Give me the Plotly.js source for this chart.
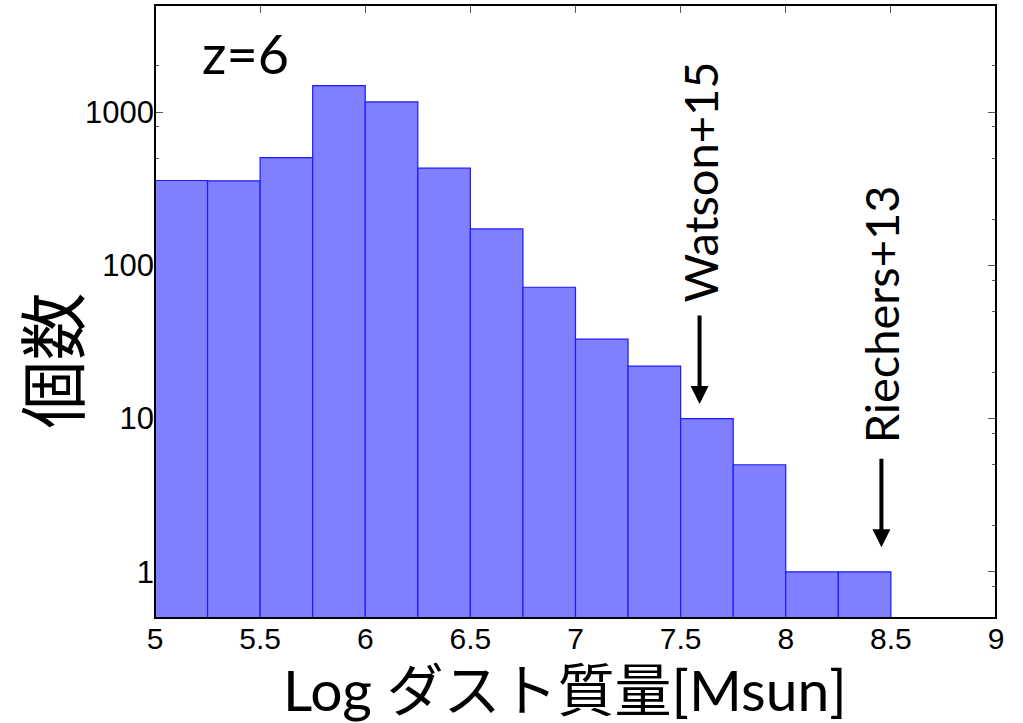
<!DOCTYPE html>
<html>
<head>
<meta charset="utf-8">
<script src="https://cdn.plot.ly/plotly-3.0.1.min.js"></script>
<style>
  html, body { margin: 0; padding: 0; background: #fff; }
  #chart { width: 1023px; height: 723px; }
</style>
</head>
<body>
<div id="chart"></div>
<script>
// ---- data ----
const binLeft = [5.0, 5.25, 5.5, 5.75, 6.0, 6.25, 6.5, 6.75, 7.0, 7.25, 7.5, 7.75, 8.0, 8.25];
const counts  = [358, 356, 504, 1490, 1165, 431, 173, 72, 33, 22, 10, 5, 1, 1];
const binWidth = 0.25;
const yTickVals = [1, 10, 100, 1000];
const yTickText = ['1', '10', '100', '1000'];
const yMinorVals = [0.8, 2, 5, 8, 20, 50, 80, 200, 500, 800, 2000];
const xTickVals = [5, 5.5, 6, 6.5, 7, 7.5, 8, 8.5, 9];
const xTickText = ['5', '5.5', '6', '6.5', '7', '7.5', '8', '8.5', '9'];
const refs = [
  {name: 'Watson+15',   x: 7.59, textY: 2.545, tipY: 1.095},
  {name: 'Riechers+13', x: 8.455, textY: 1.683, tipY: 0.161}
];
const redshiftLabel = 'z=6';
const xTitle = 'Log ダスト質量[Msun]';
const yTitle = '個数';

const latin = 'Lato, "Noto Sans CJK JP", sans-serif';

const trace = {
  type: 'bar',
  x: binLeft,
  y: counts,
  offset: 0,
  width: binWidth,
  marker: { color: '#8080ff', line: { color: '#1a1aff', width: 1.2 } },
  hoverinfo: 'x+y'
};

const annotations = [
  {
    x: 5.43, y: 3.381, xref: 'x', yref: 'y', text: redshiftLabel, showarrow: false,
    font: { family: latin, size: 54, color: '#000' }
  },
  {
    x: -0.125, y: 0.42, xref: 'paper', yref: 'paper', text: yTitle, showarrow: false,
    textangle: -90, xanchor: 'center', yanchor: 'middle',
    font: { family: '"Noto Sans CJK JP", sans-serif', size: 68, color: '#000' }
  },
  {
    x: 0.488, y: -0.174, xref: 'paper', yref: 'paper', text: xTitle, showarrow: false,
    xanchor: 'center', yanchor: 'bottom',
    font: { family: latin, size: 57, color: '#000' }
  }
];
refs.forEach(r => {
  annotations.push({
    x: r.x, y: r.textY, xref: 'x', yref: 'y', text: r.name, showarrow: false,
    textangle: -90, font: { family: latin, size: 47, color: '#000' }
  });
  annotations.push({
    x: r.x, y: r.tipY, xref: 'x', yref: 'y', text: '', showarrow: true,
    ax: 0, ay: -90, arrowhead: 2, arrowsize: 0.9, arrowwidth: 4, arrowcolor: '#000'
  });
});

const layout = {
  width: 1023, height: 723,
  margin: { l: 155, r: 27, t: 5, b: 105 },
  paper_bgcolor: '#fff', plot_bgcolor: '#fff',
  bargap: 0,
  showlegend: false,
  xaxis: {
    range: [5, 9], tickmode: 'array', tickvals: xTickVals, ticktext: xTickText,
    ticks: 'inside', ticklen: 8, tickwidth: 1, tickcolor: '#555',
    mirror: 'allticks', showline: false, showgrid: false, zeroline: false,
    layer: 'below traces',
    tickfont: { family: 'Liberation Sans, Arial, sans-serif', size: 30, color: '#000' }
  },
  yaxis: {
    type: 'log', range: [Math.log10(0.5), Math.log10(5000)],
    tickmode: 'array', tickvals: yTickVals, ticktext: yTickText,
    ticks: 'inside', ticklen: 8, tickwidth: 1, tickcolor: '#555',
    minor: { tickmode: 'array', tickvals: yMinorVals, ticks: 'inside', ticklen: 4, tickwidth: 1, tickcolor: '#555' },
    mirror: 'allticks', showline: false, showgrid: false, zeroline: false,
    layer: 'below traces',
    tickfont: { family: 'Liberation Sans, Arial, sans-serif', size: 31, color: '#000' }
  },
  shapes: [
    { type: 'rect', xref: 'paper', yref: 'paper', x0: 0, x1: 1, y0: 0, y1: 1,
      line: { color: '#000', width: 2 }, layer: 'above' }
  ],
  annotations: annotations
};

Plotly.newPlot('chart', [trace], layout, { displayModeBar: false, staticPlot: true });
</script>
</body>
</html>
